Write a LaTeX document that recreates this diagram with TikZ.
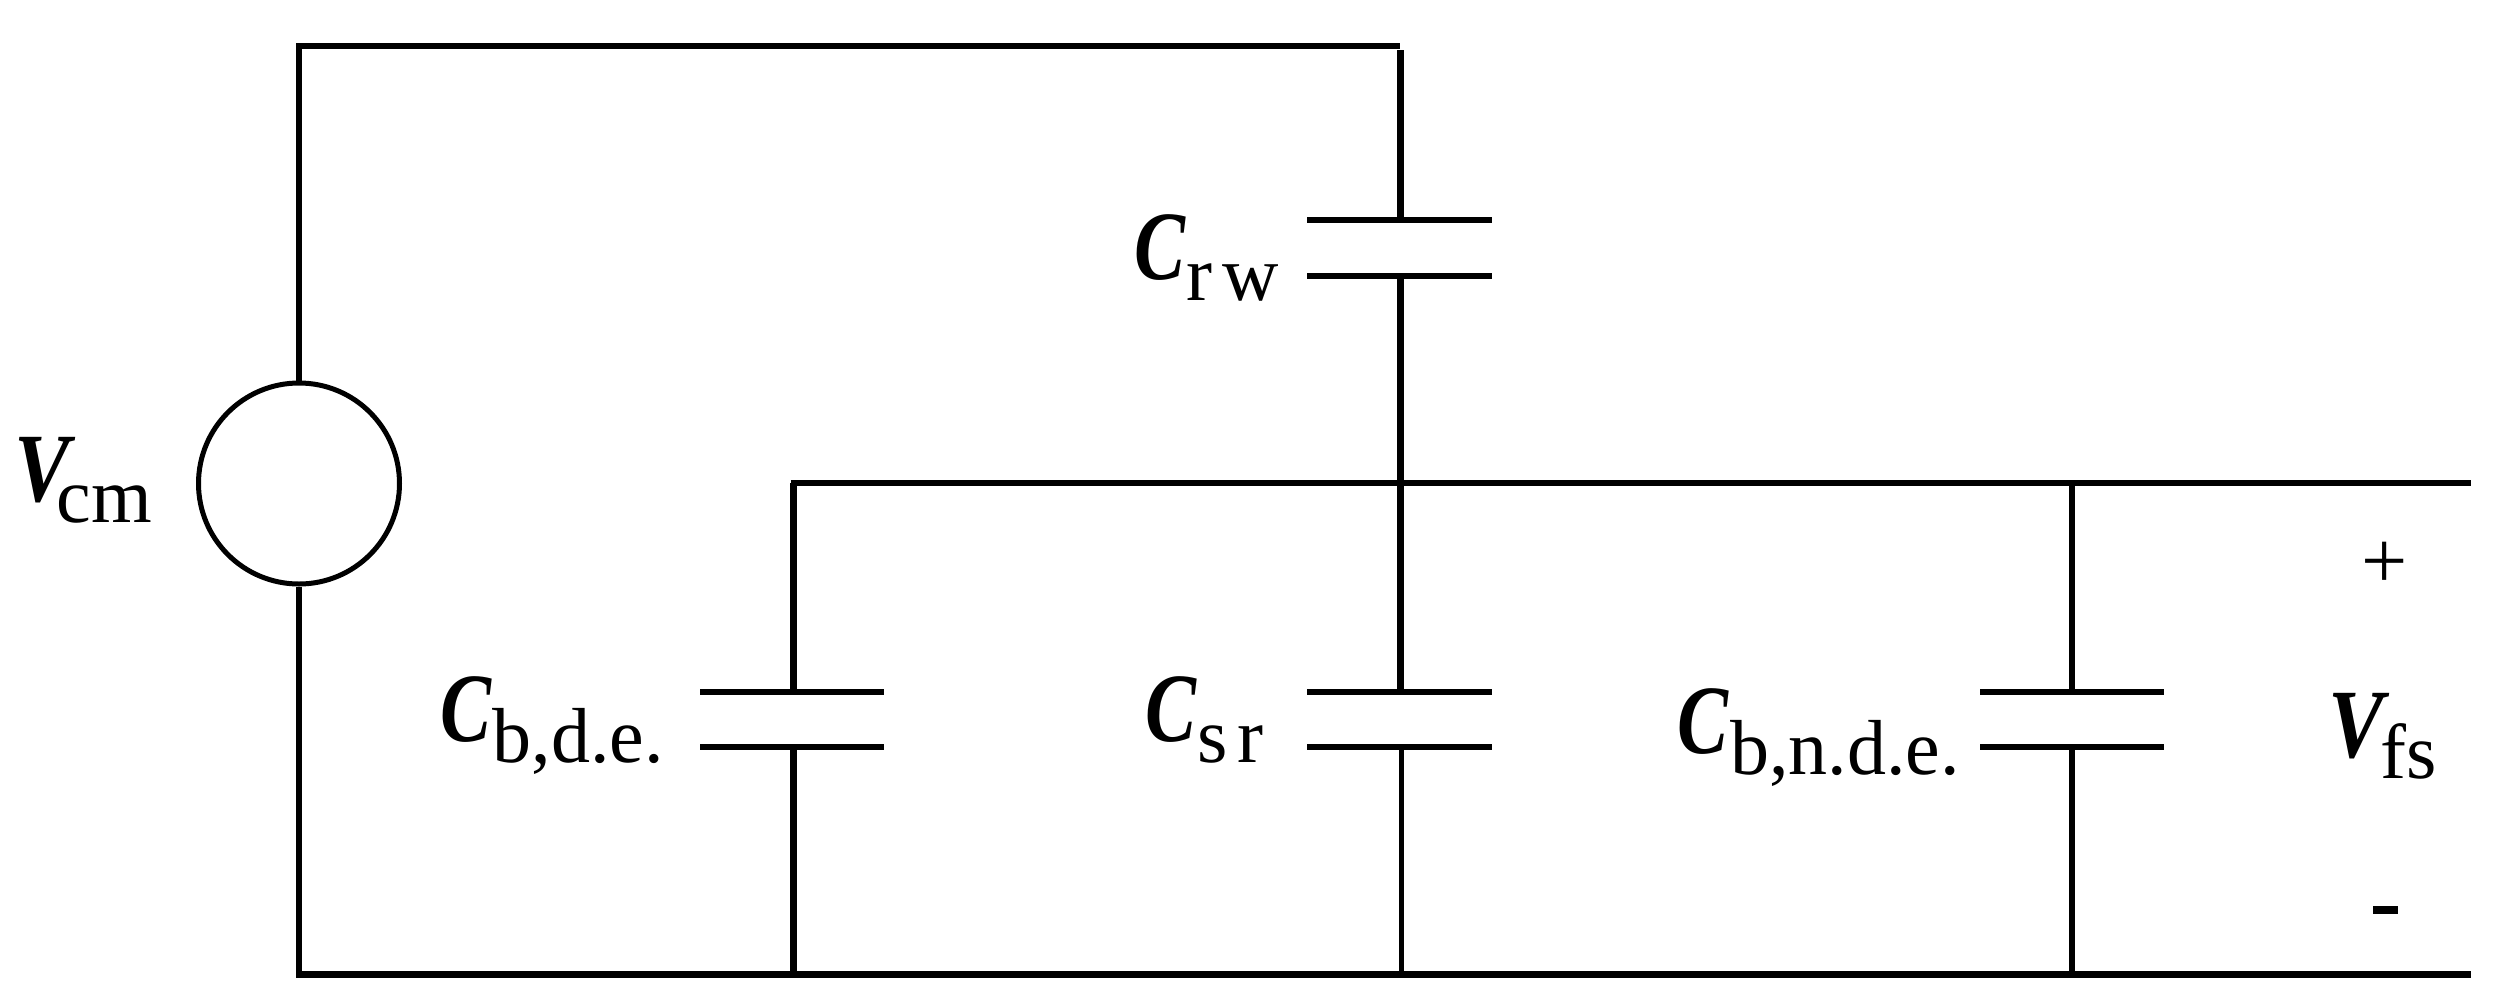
\documentclass[tikz,border=0pt]{standalone}
\usepackage{fontspec}
\setmainfont{Liberation Serif}
\newcommand{\lbl}[5]{\scalebox{#5}[1]{\fontsize{98}{98}\selectfont\bfseries\itshape #1}\kern #3pt\raisebox{-21pt}{\fontsize{78}{78}\selectfont\addfontfeatures{LetterSpace=#4}#2}}
\tikzset{
  wire/.style={line width=6pt,line cap=butt},
  thin wire/.style={line width=5pt,line cap=butt},
  plate/.style={line width=6pt,line cap=butt},
  label text/.style={inner sep=0pt,outer sep=0pt,anchor=base west},
  source/.style={circle,draw,line width=5pt,minimum size=201pt,inner sep=0pt,outer sep=2.5pt}
}
\begin{document}
\begin{tikzpicture}[x=1pt,y=-1pt]
\useasboundingbox (0,0) rectangle (2514,1007);
% source
\node[source] (vs) at (299,483.5) {};
% junctions
\coordinate (tl) at (299,46);
\coordinate (tr) at (1400,46);
\coordinate (trv) at (1400.5,50);
\coordinate (bl) at (296,974);
\coordinate (blv) at (299,974);
\coordinate (br) at (2471,974);
\coordinate (ml) at (790.5,483);
\coordinate (mc) at (1400.5,483);
\coordinate (mr) at (2471,483);
\coordinate (mj1) at (793.5,483);
\coordinate (mj3) at (2072,483);
\coordinate (bj1) at (793.5,974);
\coordinate (bj2) at (1401.5,974);
\coordinate (bj3) at (2072,974);
% capacitor plates
\coordinate (rwtl) at (1307,220); \coordinate (rwtr) at (1492,220);
\coordinate (rwbl) at (1307,276); \coordinate (rwbr) at (1492,276);
\coordinate (rwt) at (1400.5,220); \coordinate (rwb) at (1400.5,276);
\coordinate (detl) at (700,692); \coordinate (detr) at (884,692);
\coordinate (debl) at (700,747); \coordinate (debr) at (884,747);
\coordinate (det) at (793.5,692); \coordinate (deb) at (793.5,747);
\coordinate (srtl) at (1307,692); \coordinate (srtr) at (1492,692);
\coordinate (srbl) at (1307,747); \coordinate (srbr) at (1492,747);
\coordinate (srt) at (1400.5,692); \coordinate (srb) at (1401.5,747);
\coordinate (ndtl) at (1980,692); \coordinate (ndtr) at (2164,692);
\coordinate (ndbl) at (1980,747); \coordinate (ndbr) at (2164,747);
\coordinate (ndt) at (2072,692); \coordinate (ndb) at (2072,747);
% wires
\draw[wire] (tl) -- (tr);
\draw[wire] (tl) ++(0,-3) -- (vs.north);
\draw[wire] (vs.south) -- (blv);
\draw[wire,line width=7pt] (bl) -- (br);
\draw[wire] (ml) -- (mr);
\draw[wire,line width=7pt] (trv) -- (rwt);
\draw[wire,line width=7pt] (rwb) -- (mc);
\draw[wire,line width=7pt] (mc) -- (srt);
\draw[thin wire] (srb) -- (bj2);
\draw[wire,line width=6.5pt] (mj1) -- (det);
\draw[wire,line width=6.5pt] (deb) -- (bj1);
\draw[wire] (mj3) -- (ndt);
\draw[wire] (ndb) -- (bj3);
% plates
\draw[plate] (rwtl) -- (rwtr);
\draw[plate] (rwbl) -- (rwbr);
\draw[plate] (detl) -- (detr);
\draw[plate] (debl) -- (debr);
\draw[plate] (srtl) -- (srtr);
\draw[plate] (srbl) -- (srbr);
\draw[plate] (ndtl) -- (ndtr);
\draw[plate] (ndbl) -- (ndbr);
% labels
\node[label text] (lvcm) at (14,501) {\lbl{V}{cm}{-13}{0}{.85}};
\node[label text] (lrw) at (1134,279) {\lbl{C}{rw}{2}{12}{.78}};
\node[label text] (lde) at (440,741) {\lbl{C}{b,d.e.}{2}{0}{.78}};
\node[label text] (lsr) at (1145,741) {\lbl{C}{sr}{2}{12}{.78}};
\node[label text] (lnd) at (1677,753) {\lbl{C}{b,n.d.e.}{2}{0}{.78}};
\node[label text] (lfs) at (2328,757) {\lbl{V}{fs}{-3}{0}{.85}};
\node[inner sep=0pt] (plus) at (2385,565) {\fontsize{82}{82}\selectfont +};
\node[inner sep=0pt,minimum width=25pt,minimum height=8pt,fill=black] (minus) at (2385.5,910) {};
\end{tikzpicture}
\end{document}
